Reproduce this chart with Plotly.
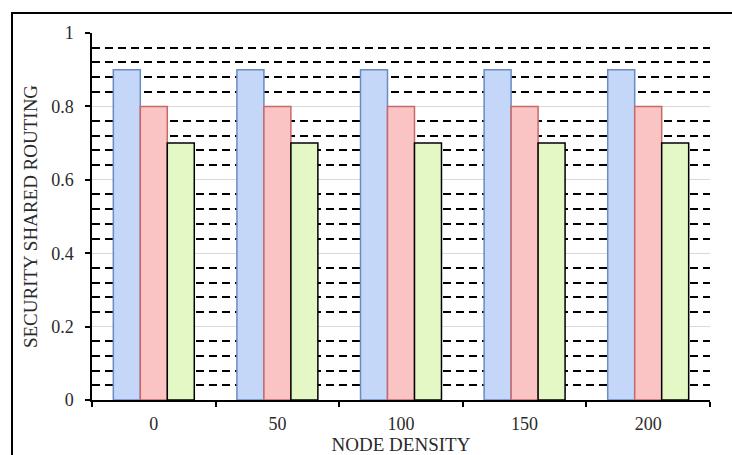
import plotly.graph_objects as go

categories = ["0", "50", "100", "150", "200"]
series_a = [0.9, 0.9, 0.9, 0.9, 0.9]
series_b = [0.8, 0.8, 0.8, 0.8, 0.8]
series_c = [0.7, 0.7, 0.7, 0.7, 0.7]

fig = go.Figure()
fig.add_bar(x=categories, y=series_a, name="A",
            marker=dict(color="#c4d7f8", line=dict(color="#6a8cc4", width=1.5)))
fig.add_bar(x=categories, y=series_b, name="B",
            marker=dict(color="#fbc4c4", line=dict(color="#c86868", width=1.5)))
fig.add_bar(x=categories, y=series_c, name="C",
            marker=dict(color="#e4f8c6", line=dict(color="#000000", width=1.5)))

W, H = 732, 455
ml, mr, mt, mb = 92, 22, 33, 55
pw, ph = W - ml - mr, H - mt - mb

fig.update_layout(
    width=W, height=H,
    margin=dict(l=ml, r=mr, t=mt, b=mb),
    paper_bgcolor="white", plot_bgcolor="white",
    barmode="group", bargap=0.345, bargroupgap=0,
    showlegend=False,
    font=dict(family="Liberation Serif", size=18, color="#2a2a2a"),
    xaxis=dict(
        type="category", tickson="boundaries", ticks="outside", ticklen=5,
        tickcolor="black", tickwidth=1.5, showline=True, linecolor="black",
        linewidth=1.5, showgrid=False, ticklabelstandoff=7, automargin=False,
        title=dict(text="NODE DENSITY", font=dict(size=19), standoff=6),
    ),
    yaxis=dict(
        range=[0, 1], dtick=0.2, ticks="outside", ticklen=5, tickcolor="black",
        tickwidth=1.5, showline=True, linecolor="black", linewidth=1.5,
        showgrid=True, gridcolor="#d9d9d9", gridwidth=1, automargin=False,
        zeroline=False, ticklabelstandoff=8,
        minor=dict(dtick=0.04, showgrid=True, gridcolor="black", ticks="",
                   griddash="8px,5px", gridwidth=1.6),
        title=dict(text="SECURITY SHARED ROUTING", font=dict(size=19), standoff=9),
    ),
)

fig.add_shape(type="rect", xref="paper", yref="paper",
              x0=(12 - ml) / pw, x1=(W + 10 - ml) / pw,
              y0=-(H + 10 - (mt + ph)) / ph, y1=(mt + ph - 13) / ph,
              line=dict(color="black", width=2), fillcolor="rgba(0,0,0,0)",
              layer="above")

fig.write_html("out.html")
